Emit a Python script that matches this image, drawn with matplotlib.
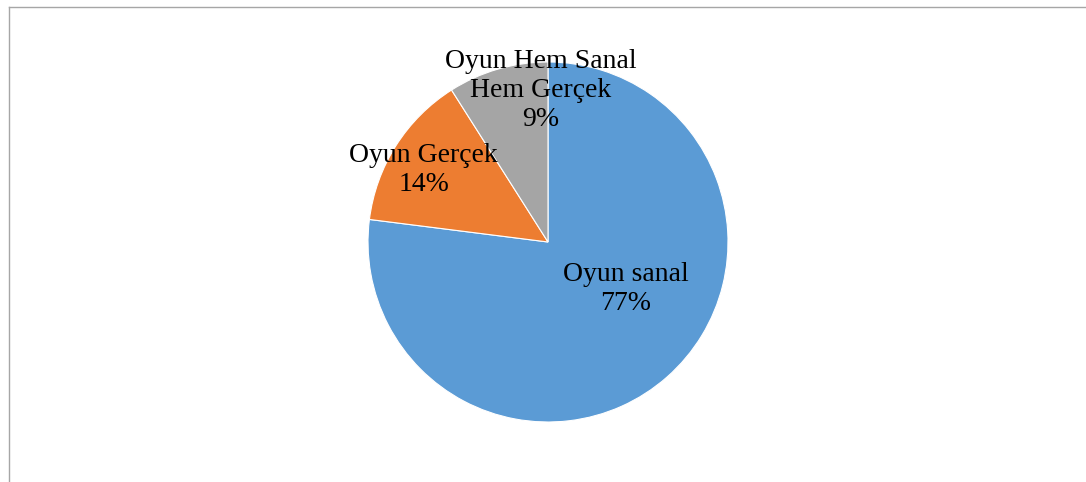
import matplotlib
matplotlib.use('Agg')
import matplotlib.pyplot as plt
from matplotlib.lines import Line2D

# slice data, clockwise from 12 o'clock
labels = ['Oyun sanal', 'Oyun Gerçek', 'Oyun Hem Sanal\nHem Gerçek']
shares = [77, 14, 9]
colors = ['#5B9BD5', '#ED7D31', '#A5A5A5']
# label centres in pie units (radius = 1)
label_pos = [(0.43, -0.26), (-0.69, 0.40), (-0.04, 0.84)]

plt.rcParams['font.family'] = ['Liberation Serif', 'DejaVu Serif']

fig = plt.figure(figsize=(10.86, 4.82), dpi=100)
fig.patch.set_facecolor('white')

# chart frame: only the left and top edges fall inside the image
W, H = 1086, 482
fx, fy = 8.5 / W, 1 - 6.5 / H
fig.add_artist(Line2D([fx, fx], [0, fy], transform=fig.transFigure,
                      color='#A6A6A6', linewidth=1))
fig.add_artist(Line2D([fx, 1], [fy, fy], transform=fig.transFigure,
                      color='#A6A6A6', linewidth=1))

cx, cy, r = 548, 242, 180
ax = fig.add_axes([(cx - r) / W, (H - cy - r) / H, 2 * r / W, 2 * r / H])
ax.pie(shares, colors=colors, startangle=90, counterclock=False, radius=1,
       wedgeprops=dict(edgecolor='white', linewidth=0.8))
ax.set_xlim(-1, 1)
ax.set_ylim(-1, 1)
ax.set_aspect('equal')
ax.axis('off')

for name, val, (x, y) in zip(labels, shares, label_pos):
    ax.text(x, y, f'{name}\n{val}%', ha='center', va='center', fontsize=20,
            linespacing=1.2, color='black')

fig.savefig('out.png', dpi=100)
